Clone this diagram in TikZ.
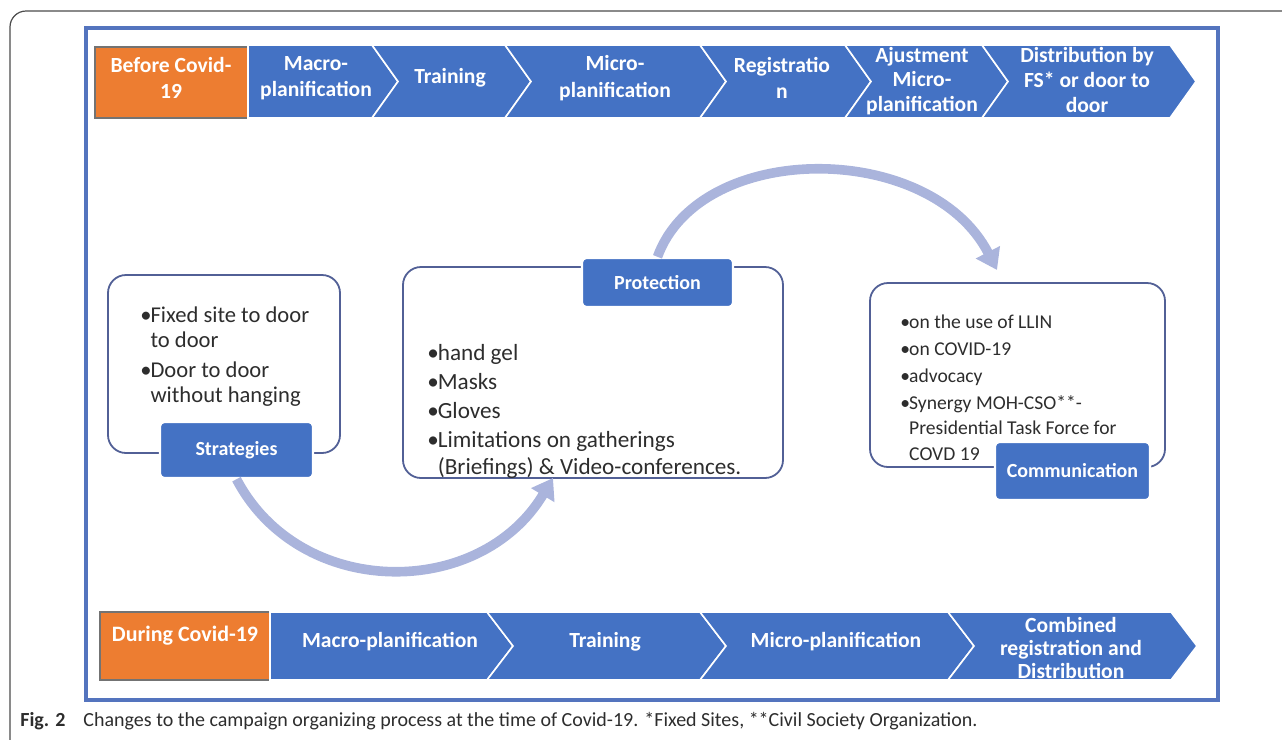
\documentclass[tikz,border=0pt]{standalone}
\usepackage{fontspec}
\setmainfont{Carlito}
\usepackage{xcolor}
\usepackage{tikz}
\usetikzlibrary{arrows.meta, calc}
\definecolor{chevblue}{RGB}{68,114,196}
\definecolor{covidorange}{RGB}{237,125,49}
\definecolor{frameblue}{RGB}{84,116,190}
\definecolor{boxline}{RGB}{82,96,150}
\definecolor{arclilac}{RGB}{170,180,220}
\definecolor{bodytext}{RGB}{45,45,45}

\tikzset{
	chevshape/.style={fill=chevblue, draw=white, line width=0.8pt, line join=miter},
	phasebox/.style={fill=covidorange, draw=black!55, line width=0.7pt},
	steptext/.style={text=white, font=\bfseries\fontsize{10.8}{13.2}\selectfont, align=center, inner sep=0pt},
	itembox/.style={draw=boxline, line width=0.9pt, rounded corners=9pt},
	tabbox/.style={fill=chevblue, draw=white, line width=1.2pt, rounded corners=2pt, text=white, font=\bfseries\fontsize{10}{12}\selectfont, inner sep=0pt},
	bendarrow/.style={draw=arclilac, line width=4.8pt, -{Triangle[width=13pt,length=10pt]}},
	itemtext/.style={text=bodytext, anchor=base west, inner sep=0pt, align=left},
}
\newcommand{\itm}{\makebox[0.45em][l]{\textbullet}}
\newcommand{\ind}{\hspace*{0.45em}}
% left, right, top, bottom, notch depth on the left (0 = flat)
\newcommand{\chevron}[5]{%
	\pgfmathsetmacro{\chevmid}{(#3+#4)/2}
	\draw[chevshape] (#1,#3) -- (#2,#3) -- (#2+\dep,\chevmid) -- (#2,#4) -- (#1,#4) -- (#1+#5,\chevmid) -- cycle;
}

\begin{document}
\begin{tikzpicture}[x=0.5pt, y=-0.5pt]
		\useasboundingbox (0,0) rectangle (1282,740);
		\pgfmathsetmacro{\dep}{26}
		% panel and frame
		\draw[black!70, line width=0.6pt, rounded corners=8pt] (10,745) -- (10,11) -- (1290,11);
		\draw[frameblue, line width=1.6pt] (86,28) rectangle (1218,700);

		% before covid
		\draw[phasebox] (95,47) rectangle (248,118);
		\chevron{248}{372}{45}{118}{0}
		\foreach \l/\r in {372/505, 505/700, 700/845, 845/982, 982/1170} {\chevron{\l}{\r}{45}{118}{\dep}}
		\node[steptext] (before) at (171,78) {Before Covid-\\19};
		\node[steptext] (bmacro) at (316,78) {Macro-\\planification};
		\node[steptext] (btrain) at (450,78) {Training};
		\node[steptext] (bmicro) at (615,78) {Micro-\\planification};
		\node[steptext] (bregis) at (782,78) {Registratio\\n};
		\node[steptext, font=\bfseries\fontsize{10.8}{12.4}\selectfont] (badjust) at (922,81) {Ajustment\\Micro-\\planification};
		\node[steptext, font=\bfseries\fontsize{10.8}{12.4}\selectfont] (bdistr) at (1087,80) {Distribution by\\FS* or door to\\door};

		% during covid
		\draw[phasebox] (100,612) rectangle (270,680);
		\chevron{270}{487}{612}{680}{0}
		\foreach \l/\r in {487/700, 700/948, 948/1171} {\chevron{\l}{\r}{612}{680}{\dep}}
		\node[steptext, font=\bfseries\fontsize{11}{12}\selectfont] (during) at (185,636) {During Covid-19};
		\node[steptext] (dmacro) at (390,642) {Macro-planification};
		\node[steptext] (dtrain) at (605,642) {Training};
		\node[steptext] (dmicro) at (836,642) {Micro-planification};
		\node[steptext, font=\bfseries\fontsize{10.8}{11.6}\selectfont] (dcomb) at (1071,648) {Combined\\registration and\\Distribution};

		% boxes
		\draw[itembox] (108,275) rectangle (340,453);
		\draw[itembox] (403,267) rectangle (783,478);
		\draw[itembox] (870,283) rectangle (1165,467);
		\node[itemtext, font=\fontsize{11.3}{12.8}\selectfont] (strattext) at (140,322) {\begin{tabular}[t]{@{}l@{}}\itm Fixed site to door\\ \ind to door\\[2pt] \itm Door to door\\ \ind without hanging\end{tabular}};
		\node[itemtext, font=\fontsize{11.6}{13.6}\selectfont] (prottext) at (427,360) {\begin{tabular}[t]{@{}l@{}}\itm hand gel\\[1pt] \itm Masks\\[1pt] \itm Gloves\\[1pt] \itm Limitations on gatherings\\ \ind (Briefings) \& Video-conferences.\end{tabular}};
		\node[itemtext, font=\fontsize{9.8}{12.6}\selectfont] (commtext) at (900,328) {\begin{tabular}[t]{@{}l@{}}\itm on the use of LLIN\\[1pt] \itm on COVID-19\\[1pt] \itm advocacy\\[1pt] \itm Synergy MOH-CSO**-\\ \ind Presidential Task Force for\\ \ind COVD 19\end{tabular}};
		\node[tabbox, minimum width=76.5pt, minimum height=28pt] (strat) at (236.5,450) {Strategies};
		\node[tabbox, minimum width=75.5pt, minimum height=24.5pt] (prot) at (657.5,282.5) {Protection};
		\node[tabbox, minimum width=77.5pt, minimum height=29pt] (comm) at (1072.5,471) {Communication};

		% bent arrows
		\coordinate (lowtip) at (553,478);
		\coordinate (hightip) at (997,270);
		\draw[bendarrow] (strat.south) .. controls (300,600) and (480,600) .. (lowtip);
		\draw[bendarrow] (prot.north) .. controls (700,140) and (930,140) .. (hightip);

		\node[anchor=base west, inner sep=0pt, text=bodytext, font=\fontsize{10}{12}\selectfont] (caption) at (20,726) {\textbf{Fig. 2}\hspace{0.9em}Changes to the campaign organizing process at the time of Covid-19. *Fixed Sites, **Civil Society Organization.};
\end{tikzpicture}
\end{document}
